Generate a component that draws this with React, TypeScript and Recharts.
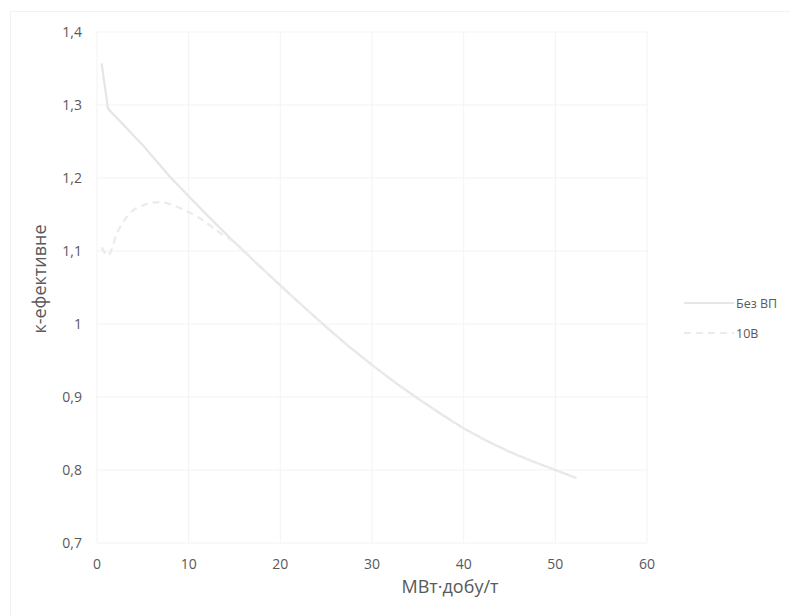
import React from "react";
import {
  LineChart,
  Line,
  XAxis,
  YAxis,
  CartesianGrid,
  Label,
} from "recharts";

// burnup, MW·day/t
const bezVpX = [0.5, 1.2, 5, 8, 10, 12.5, 15, 17.5, 20, 22.5, 25, 27.5, 30, 32.5, 35, 37.5, 40, 42.5, 45, 47.5, 50, 52.3];
const bezVpK = [1.357, 1.295, 1.245, 1.201, 1.175, 1.143, 1.112, 1.082, 1.053, 1.024, 0.996, 0.969, 0.944, 0.92, 0.898, 0.877, 0.857, 0.84, 0.825, 0.812, 0.8, 0.789];

const b10X = [0.5, 1.2, 2.2, 4.5, 6.9, 9.0, 11.2, 13.4, 15, 17.5, 20, 25, 30, 35, 40, 45, 50, 52.3];
const b10K = [1.105, 1.094, 1.125, 1.16, 1.167, 1.159, 1.145, 1.125, 1.112, 1.082, 1.053, 0.996, 0.944, 0.898, 0.857, 0.825, 0.8, 0.789];

const xTicks = [0, 10, 20, 30, 40, 50, 60];
const yTicks = [0.7, 0.8, 0.9, 1.0, 1.1, 1.2, 1.3, 1.4];

const seriesNames = ["Без ВП", "10В"];
const seriesColors = ["#e6e6e6", "#ebebeb"];
const seriesDash = [undefined, "7 5"];

const bezVp = bezVpX.map((x, i) => ({ x, k: bezVpK[i] }));
const b10 = b10X.map((x, i) => ({ x, k: b10K[i] }));

const FONT = "'Open Sans', 'Noto Sans', sans-serif";
const TXT = "#595959";

const fmt = (v: number) => String(Math.round(v * 10) / 10).replace(".", ",");

function LegendBox() {
  return (
    <div
      style={{
        position: "absolute",
        left: 684,
        top: 288,
        fontFamily: FONT,
        fontSize: 12.5,
        color: TXT,
      }}
    >
      {seriesNames.map((name, i) => (
        <div key={name} style={{ display: "flex", alignItems: "center", height: 30 }}>
          <svg width={50} height={6} style={{ marginRight: 2 }}>
            <line
              x1={0}
              y1={3}
              x2={50}
              y2={3}
              stroke={seriesColors[i]}
              strokeWidth={2}
              strokeDasharray={seriesDash[i]}
            />
          </svg>
          <span>{name}</span>
        </div>
      ))}
    </div>
  );
}

const xTitle = (props: any) => {
  const vb = props.viewBox;
  return (
    <text
      x={vb.x + vb.width / 2 + 78}
      y={593}
      textAnchor="middle"
      fill={TXT}
      fontSize={18}
      fontFamily={FONT}
    >
      МВт·добу/т
    </text>
  );
};

const yTitle = () => (
  <text
    x={0}
    y={0}
    transform="translate(46 279) rotate(-90)"
    textAnchor="middle"
    fill={TXT}
    fontSize={18}
    fontFamily={FONT}
  >
    к-ефективне
  </text>
);

export default function App() {
  return (
    <div style={{ position: "absolute", left: 0, top: 0, width: 790, height: 616, background: "#fff" }}>
      <div
        style={{
          position: "absolute",
          left: 10,
          top: 11,
          width: 790,
          height: 616,
          borderLeft: "1px solid #f2f2f2",
          borderTop: "1px solid #f2f2f2",
        }}
      />
      <LineChart
        width={790}
        height={616}
        margin={{ top: 32, right: 143, bottom: 23, left: 37 }}
        style={{ position: "absolute", left: 0, top: 0 }}
      >
        <CartesianGrid stroke="#f3f3f3" strokeWidth={1} />
        <XAxis
          type="number"
          dataKey="x"
          domain={[0, 60]}
          ticks={xTicks}
          axisLine={false}
          tickLine={false}
          tickMargin={10}
          height={50}
          tick={{ fill: TXT, fontSize: 14, fontFamily: FONT }}
        >
          <Label content={xTitle} />
        </XAxis>
        <YAxis
          type="number"
          dataKey="k"
          domain={[0.7, 1.4]}
          ticks={yTicks}
          allowDataOverflow
          axisLine={false}
          tickLine={false}
          tickMargin={9}
          width={60}
          tickFormatter={fmt}
          tick={{ fill: TXT, fontSize: 14, fontFamily: FONT }}
        >
          <Label content={yTitle} />
        </YAxis>
        <Line
          data={bezVp}
          dataKey="k"
          name={seriesNames[0]}
          type="linear"
          stroke={seriesColors[0]}
          strokeWidth={2.25}
          dot={false}
          isAnimationActive={false}
        />
        <Line
          data={b10}
          dataKey="k"
          name={seriesNames[1]}
          type="monotone"
          stroke={seriesColors[1]}
          strokeWidth={2.25}
          strokeDasharray={seriesDash[1]}
          dot={false}
          isAnimationActive={false}
        />
      </LineChart>
      <LegendBox />
    </div>
  );
}
